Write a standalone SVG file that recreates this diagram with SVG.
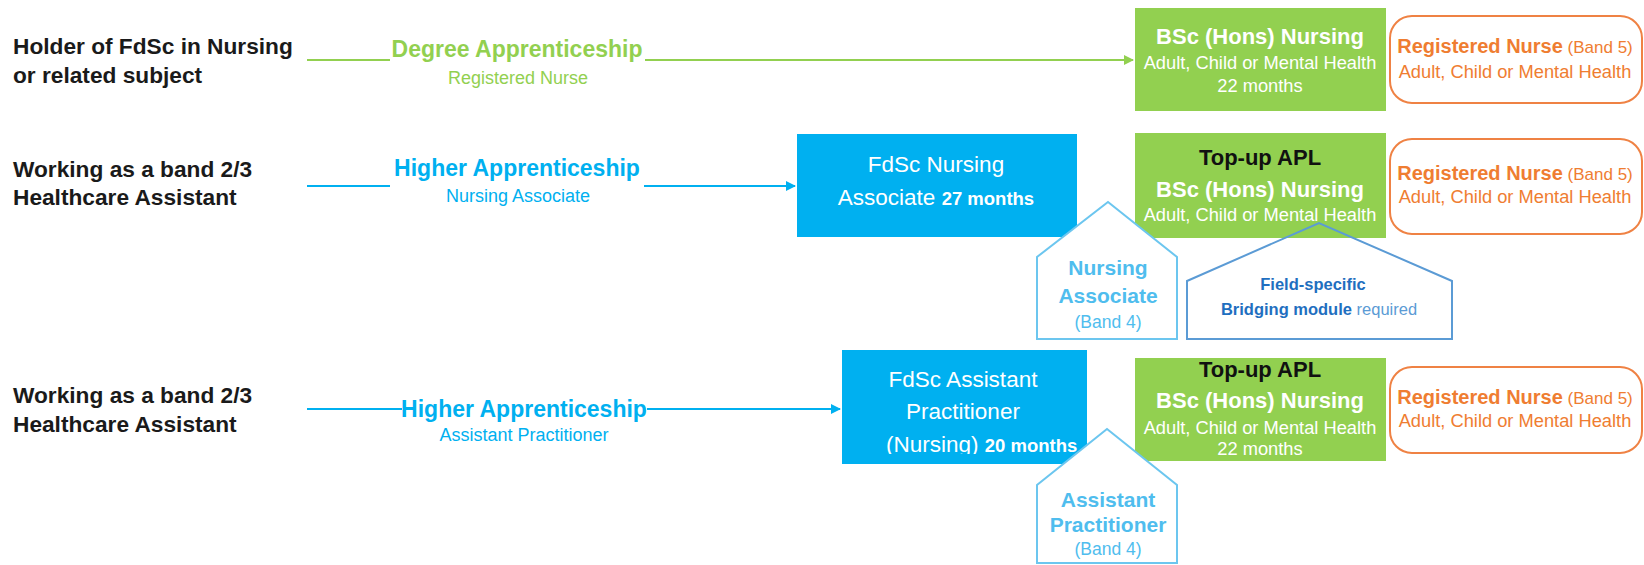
<svg xmlns="http://www.w3.org/2000/svg" width="1644" height="565" viewBox="0 0 1644 565">
<defs>
<marker id="ag" viewBox="0 0 10 10" refX="9" refY="5" markerWidth="5" markerHeight="5" orient="auto" markerUnits="strokeWidth"><path d="M0,0 L10,5 L0,10 z" fill="#92d050"/></marker>
<marker id="ab" viewBox="0 0 10 10" refX="9" refY="5" markerWidth="5" markerHeight="5" orient="auto" markerUnits="strokeWidth"><path d="M0,0 L10,5 L0,10 z" fill="#00b0f0"/></marker>
<clipPath id="c3"><rect x="842" y="350" width="245" height="104"/></clipPath>
</defs>
<style>
text{font-family:"Liberation Sans",Arial,sans-serif}
.lab{font-size:22.7px;font-weight:bold;fill:#1a1a1a}
.ga{font-size:23px;font-weight:bold;fill:#92d050;text-anchor:middle}
.gs{font-size:18px;fill:#92d050;text-anchor:middle}
.ba{font-size:23px;font-weight:bold;fill:#00b0f0;text-anchor:middle}
.bs{font-size:18px;fill:#00b0f0;text-anchor:middle}
.gbox{fill:#92d050}
.bbox{fill:#00b0f0}
.obox{fill:#fff;stroke:#ef8244;stroke-width:2}
.gt1{font-size:22px;font-weight:bold;fill:#fff;text-anchor:middle}
.gt0{font-size:22px;font-weight:bold;fill:#111;text-anchor:middle}
.gt2{font-size:18.3px;fill:#fff;text-anchor:middle}
.bt{font-size:22.5px;fill:#fff;text-anchor:middle}
.bl{text-anchor:start}
.bm{font-weight:bold;font-size:18.5px}
.ot1{font-size:20px;font-weight:bold;fill:#ef7d31;text-anchor:middle}
.ot2{font-size:18.3px;fill:#ef7d31;text-anchor:middle}
.ofine{font-weight:normal;font-size:17px}
.pen1{fill:#fff;stroke:#6cc6ef;stroke-width:2}
.pen2{fill:none;stroke:#5b9bd5;stroke-width:2}
.pt1{font-size:21px;font-weight:bold;fill:#4fbdee;text-anchor:middle}
.pt2{font-size:17.5px;fill:#4fbdee;text-anchor:middle}
.ft1{font-size:16.5px;font-weight:bold;fill:#1f6fc0;text-anchor:middle}
.fine{font-weight:normal;fill:#5b9bd5}
.lg{stroke:#92d050;stroke-width:2;fill:none}
.lb{stroke:#00b0f0;stroke-width:2;fill:none}
</style>

<g id="connectors">
<line class="lg" x1="307" y1="60" x2="390" y2="60"/>
<line class="lg" x1="645" y1="60" x2="1133" y2="60" marker-end="url(#ag)"/>
<line class="lb" x1="307" y1="186" x2="390" y2="186"/>
<line class="lb" x1="644" y1="186" x2="795" y2="186" marker-end="url(#ab)"/>
<line class="lb" x1="307" y1="409" x2="402" y2="409"/>
<line class="lb" x1="647" y1="409" x2="840" y2="409" marker-end="url(#ab)"/>
</g>

<g id="start-1"><text class="lab" x="13" y="54">Holder of FdSc in Nursing</text><text class="lab" x="13" y="83">or related subject</text></g>
<g id="start-2"><text class="lab" x="13" y="177">Working as a band 2/3</text><text class="lab" x="13" y="205">Healthcare Assistant</text></g>
<g id="start-3"><text class="lab" x="13" y="403">Working as a band 2/3</text><text class="lab" x="13" y="432">Healthcare Assistant</text></g>

<g id="route-1"><text class="ga" x="517" y="57">Degree Apprenticeship</text><text class="gs" x="518" y="84">Registered Nurse</text></g>
<g id="route-2"><text class="ba" x="517" y="176">Higher Apprenticeship</text><text class="bs" x="518" y="202">Nursing Associate</text></g>
<g id="route-3"><text class="ba" x="524" y="417">Higher Apprenticeship</text><text class="bs" x="524" y="441">Assistant Practitioner</text></g>

<g id="fdsc-na">
<rect class="bbox" x="797" y="134" width="280" height="103"/>
<text class="bt" x="936" y="172">FdSc Nursing</text>
<text class="bt" x="936" y="205">Associate <tspan class="bm">27 months</tspan></text>
</g>
<g id="fdsc-ap">
<rect class="bbox" x="842" y="350" width="245" height="114"/>
<g clip-path="url(#c3)">
<text class="bt" x="963" y="387">FdSc Assistant</text>
<text class="bt" x="963" y="419">Practitioner</text>
<text class="bt bl" x="886" y="452">(Nursing) <tspan class="bm">20 months</tspan></text>
</g>
</g>

<g id="bsc-1">
<rect class="gbox" x="1135" y="8" width="251" height="103"/>
<text class="gt1" x="1260" y="44">BSc (Hons) Nursing</text>
<text class="gt2" x="1260" y="69">Adult, Child or Mental Health</text>
<text class="gt2" x="1260" y="92">22 months</text>
</g>
<g id="bsc-2">
<rect class="gbox" x="1135" y="133" width="251" height="105"/>
<text class="gt0" x="1260" y="165">Top-up APL</text>
<text class="gt1" x="1260" y="197">BSc (Hons) Nursing</text>
<text class="gt2" x="1260" y="221">Adult, Child or Mental Health</text>
</g>
<g id="bsc-3">
<rect class="gbox" x="1135" y="358" width="251" height="103"/>
<text class="gt0" x="1260" y="377">Top-up APL</text>
<text class="gt1" x="1260" y="408">BSc (Hons) Nursing</text>
<text class="gt2" x="1260" y="434">Adult, Child or Mental Health</text>
<text class="gt2" x="1260" y="455">22 months</text>
</g>

<g id="rn-1">
<rect class="obox" x="1390" y="16" width="252" height="87" rx="22"/>
<text class="ot1" x="1515" y="53">Registered Nurse<tspan class="ofine"> (Band 5)</tspan></text>
<text class="ot2" x="1515" y="78">Adult, Child or Mental Health</text>
</g>
<g id="rn-2">
<rect class="obox" x="1390" y="139" width="252" height="95" rx="22"/>
<text class="ot1" x="1515" y="180">Registered Nurse<tspan class="ofine"> (Band 5)</tspan></text>
<text class="ot2" x="1515" y="203">Adult, Child or Mental Health</text>
</g>
<g id="rn-3">
<rect class="obox" x="1390" y="367" width="252" height="86" rx="22"/>
<text class="ot1" x="1515" y="404">Registered Nurse<tspan class="ofine"> (Band 5)</tspan></text>
<text class="ot2" x="1515" y="427">Adult, Child or Mental Health</text>
</g>

<g id="pentagon-na">
<polygon class="pen1" points="1037,339 1037,257 1108,202 1177,257 1177,339"/>
<text class="pt1" x="1108" y="275">Nursing</text>
<text class="pt1" x="1108" y="303">Associate</text>
<text class="pt2" x="1108" y="328">(Band 4)</text>
</g>
<g id="pentagon-ap">
<polygon class="pen1" points="1037,563 1037,485 1107,429 1177,485 1177,563"/>
<text class="pt1" x="1108" y="507">Assistant</text>
<text class="pt1" x="1108" y="532">Practitioner</text>
<text class="pt2" x="1108" y="555">(Band 4)</text>
</g>

<g id="bridging">
<polygon class="pen2" points="1187,339 1187,281 1319,223 1452,281 1452,339"/>
<text class="ft1" x="1313" y="290">Field-specific</text>
<text class="ft1" x="1319" y="315">Bridging module<tspan class="fine"> required</tspan></text>
</g>
</svg>
